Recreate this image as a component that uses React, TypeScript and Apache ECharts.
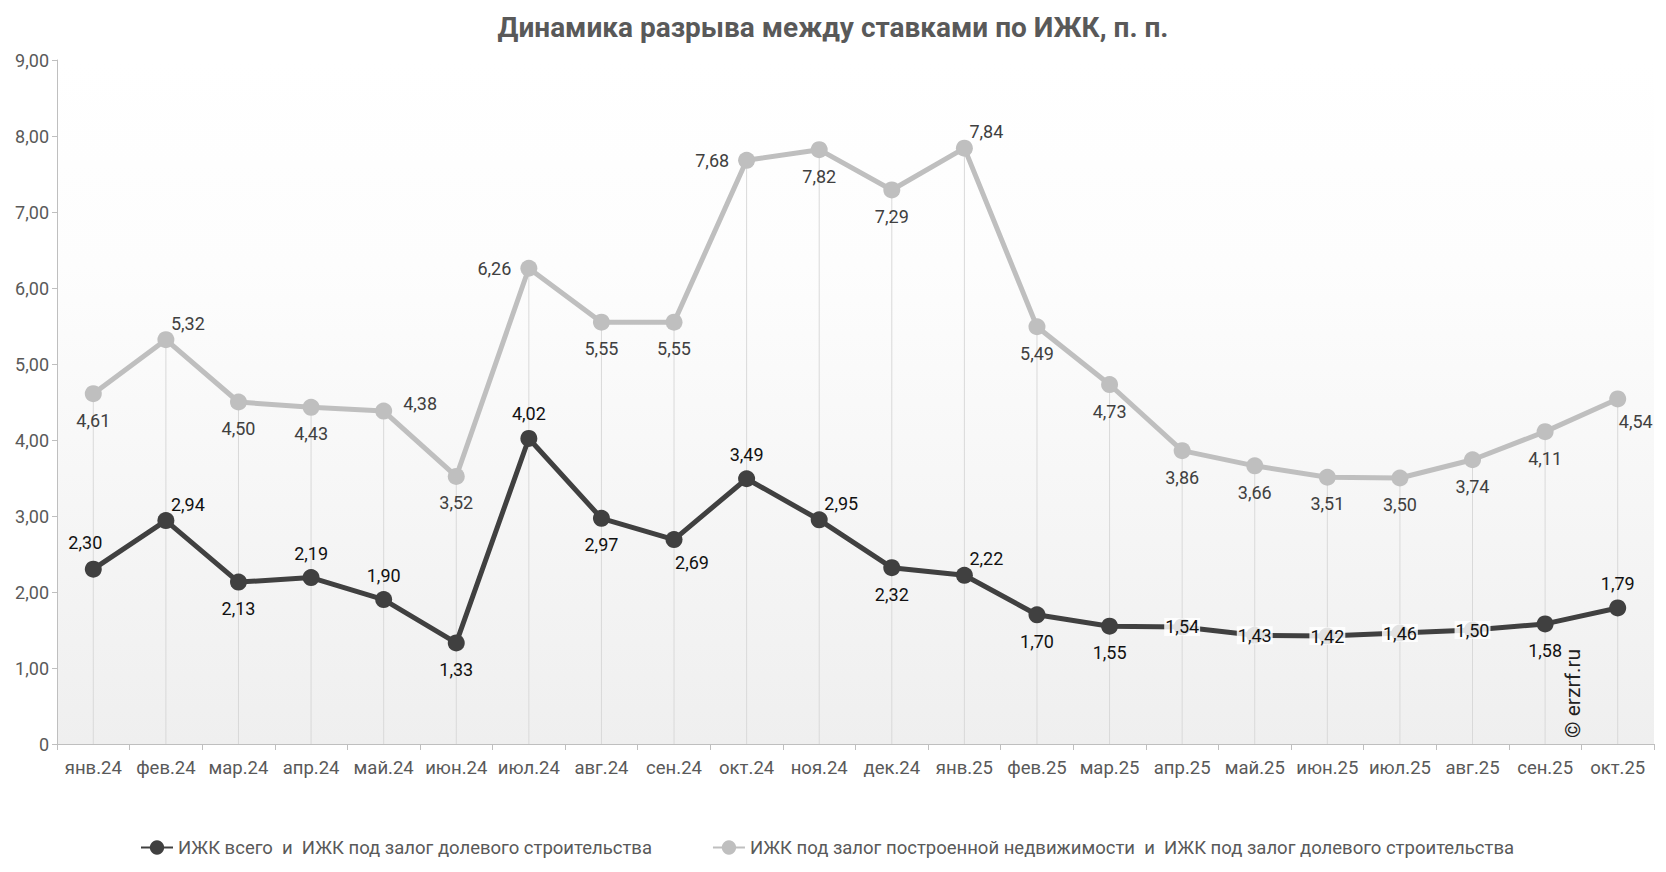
import React, { useEffect, useRef } from "react";
import * as echarts from "echarts";

const categories = ["янв.24","фев.24","мар.24","апр.24","май.24","июн.24","июл.24","авг.24","сен.24","окт.24","ноя.24","дек.24","янв.25","фев.25","мар.25","апр.25","май.25","июн.25","июл.25","авг.25","сен.25","окт.25"];
const darkValues = [2.30,2.94,2.13,2.19,1.90,1.33,4.02,2.97,2.69,3.49,2.95,2.32,2.22,1.70,1.55,1.54,1.43,1.42,1.46,1.50,1.58,1.79];
const lightValues = [4.61,5.32,4.50,4.43,4.38,3.52,6.26,5.55,5.55,7.68,7.82,7.29,7.84,5.49,4.73,3.86,3.66,3.51,3.50,3.74,4.11,4.54];
const darkName = "ИЖК всего  и  ИЖК под залог долевого строительства";
const lightName = "ИЖК под залог построенной недвижимости  и  ИЖК под залог долевого строительства";

const darkPos = ["tl","tr","b","t","t","b","t","b","br","t","tr","b","tr","b","b","c","c","c","c","c","b","t"];
const lightPos = ["b","tr","b","b","r","b","l","b","b","l","b","b","tr","b","b","b","b","b","b","b","b","br"];

const fmt = (v: number) => v.toFixed(2).replace(".", ",");

function place(p: string): any {
  switch (p) {
    case "t": return { position: "top", offset: [0, -2] };
    case "tl": return { position: "top", offset: [-8, -4] };
    case "tr": return { position: "top", offset: [22, 6] };
    case "b": return { position: "bottom", offset: [0, 4] };
    case "br": return { position: "bottom", offset: [18, 0] };
    case "l": return { position: "left", offset: [-4, 0] };
    case "r": return { position: "right", offset: [6, -8] };
    default: return { position: "inside", offset: [0, 0], backgroundColor: "rgba(255,255,255,0.85)", padding: [0, 1] };
  }
}

export default function App() {
  const ref = useRef<HTMLDivElement>(null);
  useEffect(() => {
    const chart = echarts.init(ref.current!, null, { renderer: "svg" });
    const mk = (vals: number[], pos: string[], color: string) =>
      vals.map((v, i) => ({ value: v, label: { show: true, formatter: fmt(v), color, fontSize: 18, fontFamily: "Roboto", ...place(pos[i]) } }));
    chart.setOption({
      animation: false,
      backgroundColor: "#fff",
      title: {
        text: "Динамика разрыва между ставками по ИЖК, п. п.",
        left: "center",
        top: 8,
        textStyle: { fontFamily: "Roboto", fontSize: 28, fontWeight: "bold", color: "#595959" },
      },
      legend: {
        bottom: 10,
        left: 135,
        itemGap: 60,
        itemWidth: 32,
        itemHeight: 18,
        data: [darkName, lightName],
        textStyle: { fontFamily: "Roboto", fontSize: 18.5, color: "#595959" },
      },
      grid: {
        left: 57, right: 12, top: 60, bottom: 128,
        show: true,
        borderWidth: 0,
        backgroundColor: new echarts.graphic.LinearGradient(0, 0, 0, 1, [
          { offset: 0, color: "#ffffff" },
          { offset: 0.3, color: "#fdfdfd" },
          { offset: 1, color: "#efefef" },
        ]),
      },
      xAxis: {
        type: "category",
        data: categories,
        boundaryGap: true,
        axisLine: { lineStyle: { color: "#bfbfbf" } },
        axisTick: { show: true, length: 6, interval: 0, lineStyle: { color: "#bfbfbf" } },
        axisLabel: { interval: 0, fontFamily: "Roboto", fontSize: 18.5, color: "#595959", margin: 14 },
      },
      yAxis: {
        type: "value",
        min: 0, max: 9, interval: 1,
        axisLine: { show: true, lineStyle: { color: "#bfbfbf" } },
        axisTick: { show: true, length: 5, lineStyle: { color: "#bfbfbf" } },
        splitLine: { show: false },
        axisLabel: { fontFamily: "Roboto", fontSize: 18, color: "#595959", formatter: (v: number) => (v === 0 ? "0" : fmt(v)) },
      },
      graphic: [{
        type: "text",
        x: 1562, y: 738, rotation: Math.PI / 2,
        style: { text: "© erzrf.ru", fontFamily: "Roboto", fontSize: 21, fill: "#222" },
      }],
      series: [
        {
          type: "bar", silent: true, barWidth: 1, data: lightValues,
          itemStyle: { color: "#d9d9d9" }, z: 1,
        },
        {
          name: lightName, type: "line", data: mk(lightValues, lightPos, "#404040"),
          symbol: "circle", symbolSize: 17, z: 3,
          lineStyle: { width: 5, color: "#bfbfbf" }, itemStyle: { color: "#bfbfbf" },
        },
        {
          name: darkName, type: "line", data: mk(darkValues, darkPos, "#111"),
          symbol: "circle", symbolSize: 17, z: 4,
          lineStyle: { width: 5, color: "#404040" }, itemStyle: { color: "#404040" },
        },
      ],
    });
    return () => chart.dispose();
  }, []);
  return <div ref={ref} style={{ position: "fixed", left: 0, top: 0, width: 1666, height: 872 }} />;
}
